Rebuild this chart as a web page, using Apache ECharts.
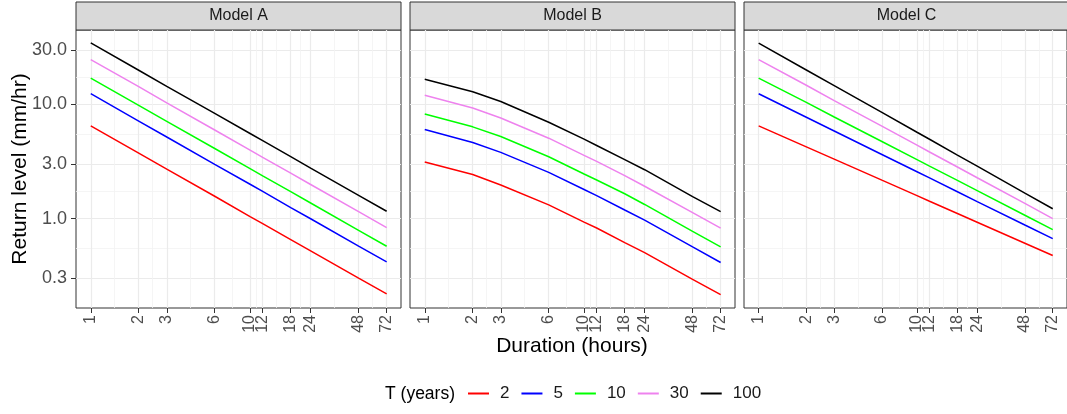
<!DOCTYPE html>
<html>
<head>
    <meta charset="utf-8">
    <title>Return level by duration</title>
    <script src="https://cdn.jsdelivr.net/npm/echarts@6/dist/echarts.min.js"></script>
    <style>
        html, body { margin: 0; padding: 0; background: #fff; }
    </style>
</head>
<body>
<div id="main" style="width: 1067px;height:414px;"></div>
<script type="text/javascript">
    // durations (hours) and return periods
    var durations = [1, 2, 3, 6, 10, 12, 18, 24, 48, 72];
    var periods = ['2', '5', '10', '30', '100'];
    var models = ['Model A', 'Model B', 'Model C'];

    // return levels (mm/hr), one row per return period (2, 5, 10, 30, 100)
    var modelA = [
        [6.49, 3.74, 2.71, 1.57, 1.04, 0.905, 0.656, 0.522, 0.301, 0.219],
        [12.4, 7.15, 5.18, 2.99, 2.00, 1.73, 1.25, 0.997, 0.575, 0.418],
        [17.0, 9.81, 7.11, 4.11, 2.74, 2.37, 1.72, 1.37, 0.789, 0.573],
        [24.7, 14.3, 10.3, 5.97, 3.98, 3.44, 2.50, 1.99, 1.15, 0.833],
        [34.5, 19.9, 14.4, 8.33, 5.56, 4.81, 3.49, 2.77, 1.60, 1.16]
    ];
    var modelB = [
        [3.13, 2.43, 1.97, 1.32, 0.933, 0.827, 0.616, 0.504, 0.294, 0.216],
        [6.03, 4.64, 3.80, 2.54, 1.80, 1.59, 1.19, 0.971, 0.565, 0.413],
        [8.25, 6.36, 5.24, 3.48, 2.46, 2.18, 1.65, 1.33, 0.773, 0.565],
        [12.0, 9.30, 7.61, 5.06, 3.58, 3.17, 2.38, 1.92, 1.13, 0.827],
        [16.6, 12.9, 10.6, 6.98, 4.97, 4.37, 3.28, 2.68, 1.56, 1.15]
    ];
    var modelC = [
        [6.49, 4.25, 3.32, 2.17, 1.59, 1.42, 1.11, 0.930, 0.609, 0.475],
        [12.4, 7.72, 5.85, 3.64, 2.57, 2.27, 1.72, 1.41, 0.88, 0.668],
        [17.0, 10.4, 7.75, 4.73, 3.28, 2.88, 2.16, 1.76, 1.07, 0.80],
        [24.7, 14.7, 10.8, 6.45, 4.40, 3.83, 2.83, 2.28, 1.36, 1.00],
        [34.4, 20.0, 14.6, 8.50, 5.70, 4.95, 3.60, 2.88, 1.67, 1.22]
    ];

    var xTicks = [1, 2, 3, 6, 10, 12, 18, 24, 48, 72];
    var yTicks = [0.3, 1, 3, 10, 30];

    var colors = ['#ff0000', '#0000ff', '#00ff00', '#ee82ee', '#000000'];
    var FONT = 'Liberation Sans, Arial, Helvetica, sans-serif';

    // minor grid lines sit half way (in log space) between the major breaks
    function minorOf(ticks) {
        var out = [];
        for (var i = 0; i < ticks.length - 1; i++) {
            out.push(Math.sqrt(ticks[i] * ticks[i + 1]));
        }
        return out;
    }
    var xMinor = minorOf(xTicks);
    var yMinor = minorOf(yTicks);

    // layout
    var panelLeft = [76, 410, 744];
    var panelW = 325;
    var panelTop = 30;
    var panelH = 278;
    var xMin = 0.808, xMax = 88.6;
    var yMin = 0.165, yMax = 44.8;

    var myChart = echarts.init(document.getElementById('main'));

    var grids = [], xAxes = [], yAxes = [], series = [], graphics = [];
    var allData = [modelA, modelB, modelC];

    models.forEach(function (m, i) {
        grids.push({
            left: panelLeft[i], top: panelTop, width: panelW, height: panelH,
            show: true, borderColor: '#333333', borderWidth: 1, backgroundColor: '#ffffff'
        });
        // main x axis
        xAxes.push({
            type: 'log', gridIndex: i, min: xMin, max: xMax,
            axisLine: { show: false },
            axisTick: { show: true, length: 5, customValues: xTicks, lineStyle: { color: '#333333' } },
            axisLabel: {
                customValues: xTicks, rotate: 90, margin: 7,
                fontSize: 16, color: '#4d4d4d', fontFamily: FONT,
                formatter: function (v) { return String(v); }
            },
            splitLine: { show: true, lineStyle: { color: '#ebebeb', width: 1.2 } },
            minorSplitLine: { show: false }
        });
        // minor x grid
        xAxes.push({
            type: 'log', gridIndex: i, min: xMin, max: xMax,
            axisLine: { show: false },
            axisTick: { show: false, customValues: xMinor },
            axisLabel: { show: false, customValues: xMinor },
            splitLine: { show: true, lineStyle: { color: '#f2f2f2', width: 0.8 } }
        });
        yAxes.push({
            type: 'log', gridIndex: i, min: yMin, max: yMax,
            axisLine: { show: false },
            axisTick: { show: i === 0, length: 5, customValues: yTicks, lineStyle: { color: '#333333' } },
            axisLabel: {
                show: i === 0, customValues: yTicks, margin: 9,
                fontSize: 18, color: '#4d4d4d', fontFamily: FONT,
                formatter: function (v) { return Number(v).toFixed(1); }
            },
            splitLine: { show: true, lineStyle: { color: '#ebebeb', width: 1.2 } },
            name: i === 0 ? 'Return level (mm/hr)' : '',
            nameLocation: 'middle', nameGap: 45, nameRotate: 90, nameMoveOverlap: false,
            nameTextStyle: { fontSize: 21, color: '#000000', fontFamily: FONT }
        });
        yAxes.push({
            type: 'log', gridIndex: i, min: yMin, max: yMax,
            axisLine: { show: false },
            axisTick: { show: false, customValues: yMinor },
            axisLabel: { show: false, customValues: yMinor },
            splitLine: { show: true, lineStyle: { color: '#f2f2f2', width: 0.8 } }
        });

        allData[i].forEach(function (row, k) {
            series.push({
                name: periods[k],
                type: 'line',
                xAxisIndex: 2 * i,
                yAxisIndex: 2 * i,
                showSymbol: false,
                symbol: 'none',
                silent: true,
                lineStyle: { color: colors[k], width: 1.5 },
                itemStyle: { color: colors[k] },
                z: 3,
                data: durations.map(function (d, j) { return [d, row[j]]; })
            });
        });

        // facet strip
        graphics.push({
            type: 'rect',
            shape: { x: panelLeft[i], y: 2, width: panelW, height: panelTop - 2 },
            style: { fill: '#d9d9d9', stroke: '#333333', lineWidth: 1 }
        });
        graphics.push({
            type: 'text',
            x: panelLeft[i] + panelW / 2, y: 2 + (panelTop - 2) / 2,
            style: {
                text: m, fill: '#1a1a1a', fontSize: 16, fontFamily: FONT,
                align: 'center', verticalAlign: 'middle'
            }
        });
    });

    graphics.push({
        type: 'text', x: 572, y: 346,
        style: {
            text: 'Duration (hours)', fill: '#000000', fontSize: 21, fontFamily: FONT,
            align: 'center', verticalAlign: 'middle'
        }
    });
    graphics.push({
        type: 'text', x: 385, y: 394,
        style: {
            text: 'T (years)', fill: '#000000', fontSize: 17.5, fontFamily: FONT,
            align: 'left', verticalAlign: 'middle'
        }
    });

    myChart.setOption({
        animation: false,
        grid: grids,
        xAxis: xAxes,
        yAxis: yAxes,
        legend: {
            left: 468, top: 385, padding: 0,
            icon: 'rect', itemWidth: 21, itemHeight: 2, itemGap: 12,
            selectedMode: false,
            textStyle: { fontSize: 17, color: '#1a1a1a', fontFamily: FONT, padding: [0, 0, 0, 6] },
            data: periods
        },
        graphic: graphics,
        series: series
    });
</script>
</body>
</html>
